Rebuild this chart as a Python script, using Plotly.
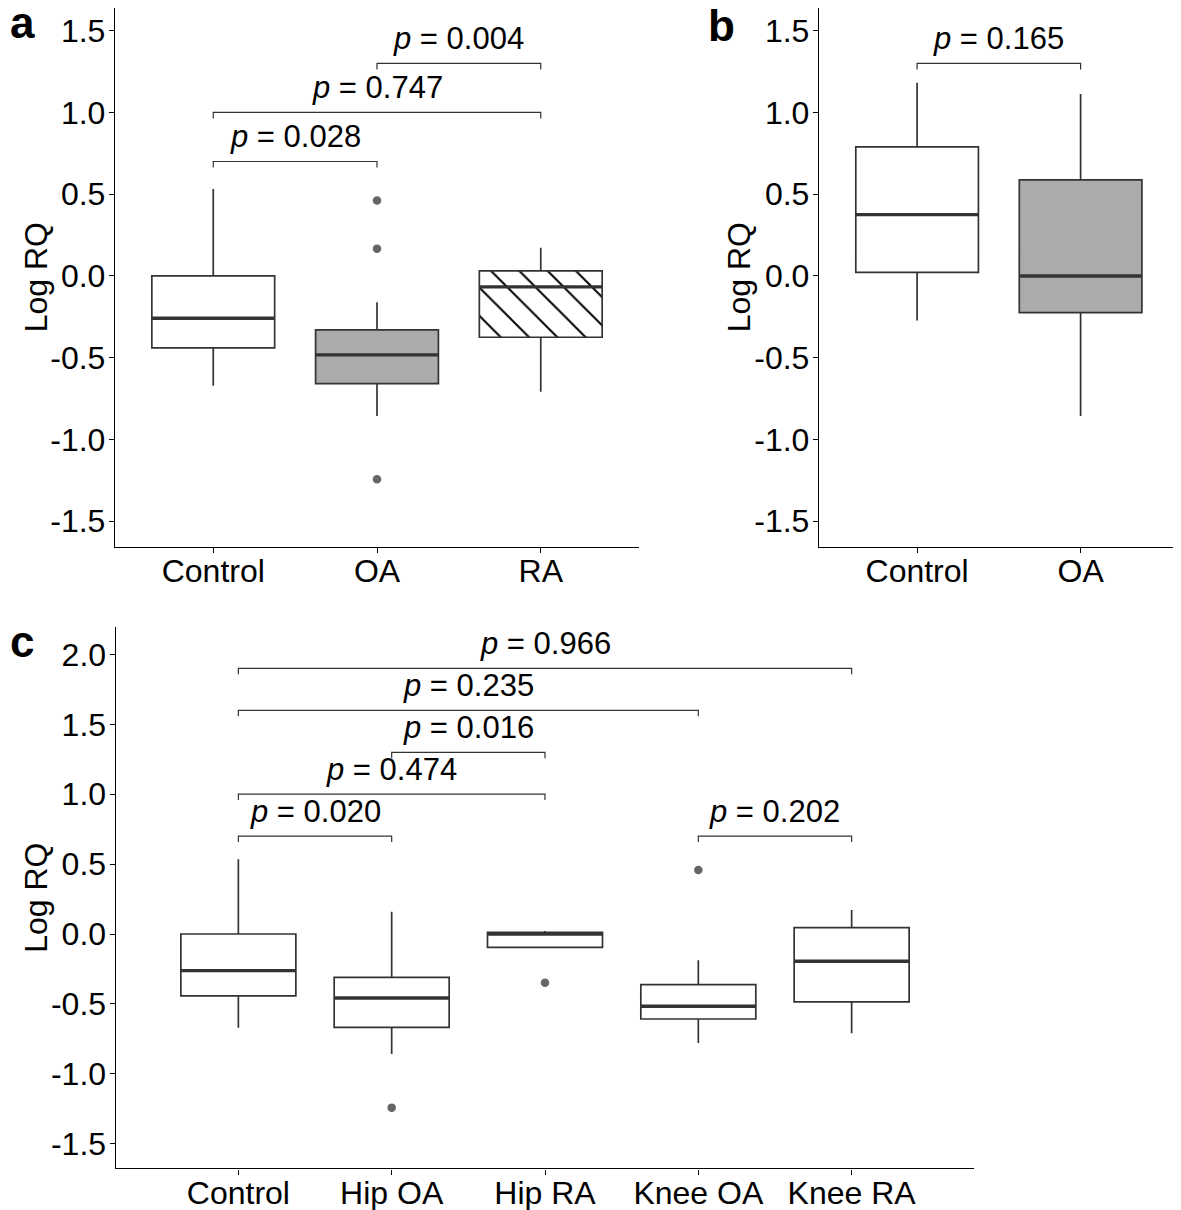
import plotly.graph_objects as go

# ---------------- data ----------------
# Panel a
a_categories = ["Control", "OA", "RA"]
a_upper = [0.532, -0.161, 0.173]
a_q3 = [0.000, -0.330, 0.031]
a_median = [-0.259, -0.483, -0.067]
a_q1 = [-0.440, -0.659, -0.375]
a_lower = [-0.671, -0.856, -0.708]
a_outlier_cat = ["OA", "OA", "OA"]
a_outlier_val = [0.461, 0.167, -1.244]
a_pair_left = ["Control", "Control", "OA"]
a_pair_right = ["OA", "RA", "RA"]
a_pair_height = [0.7, 1.0, 1.3]
a_pvalues = ["0.028", "0.747", "0.004"]

# Panel b
b_categories = ["Control", "OA"]
b_upper = [1.182, 1.113]
b_q3 = [0.789, 0.587]
b_median = [0.375, 0.000]
b_q1 = [0.022, -0.224]
b_lower = [-0.273, -0.856]
b_pair_left = ["Control"]
b_pair_right = ["OA"]
b_pair_height = [1.3]
b_pvalues = ["0.165"]

# Panel c
c_categories = ["Control", "Hip OA", "Hip RA", "Knee OA", "Knee RA"]
c_upper = [0.534, 0.160, 0.021, -0.188, 0.172]
c_q3 = [0.000, -0.310, 0.012, -0.362, 0.045]
c_median = [-0.262, -0.458, 0.000, -0.517, -0.195]
c_q1 = [-0.443, -0.668, -0.095, -0.608, -0.486]
c_lower = [-0.670, -0.858, -0.095, -0.780, -0.710]
c_outlier_cat = ["Hip OA", "Hip RA", "Knee OA"]
c_outlier_val = [-1.242, -0.348, 0.458]
c_pair_left = ["Control", "Control", "Hip OA", "Control", "Control", "Knee OA"]
c_pair_right = ["Hip OA", "Hip RA", "Hip RA", "Knee OA", "Knee RA", "Knee RA"]
c_pair_height = [0.7, 1.0, 1.3, 1.6, 1.9, 0.7]
c_pvalues = ["0.020", "0.474", "0.016", "0.235", "0.966", "0.202"]

ab_tick_vals = [-1.5, -1.0, -0.5, 0.0, 0.5, 1.0, 1.5]
ab_tick_text = ["-1.5", "-1.0", "-0.5", "0.0", "0.5", "1.0", "1.5"]
c_tick_vals = [-1.5, -1.0, -0.5, 0.0, 0.5, 1.0, 1.5, 2.0]
c_tick_text = ["-1.5", "-1.0", "-0.5", "0.0", "0.5", "1.0", "1.5", "2.0"]

# ---------------- styles / geometry ----------------
FONT = "Liberation Sans, Arial, Helvetica, sans-serif"
BOXLINE = "#333333"
GRAY = "#ababab"
a_fill = {"Control": "white", "OA": GRAY, "RA": "rgba(0,0,0,0)"}
a_hatch = {"RA"}
b_fill = {"Control": "white", "OA": GRAY}
c_fill = {k: "white" for k in c_categories}
BOXW = 0.75

OFF = 8  # page body margin
W, H = 1181 - OFF, 1210 - OFF


def px2x(px):
    return min(1.0, max(0.0, (px - OFF) / W))


def py2y(py):
    return min(1.0, max(0.0, 1 - (py - OFF) / H))


fig = go.Figure()


def add_panel(xref, yref, cats, upper, q3, med, q1, lower, fills, hatch,
              out_cat, out_val, pl, pr, ph, pv, tip):
    for i, cat in enumerate(cats):
        pos = i + 1
        if cat in hatch:
            fig.add_trace(go.Bar(
                x=[pos], y=[q3[i] - q1[i]], base=[q1[i]], width=BOXW,
                marker=dict(color="black", line=dict(width=0),
                            pattern=dict(shape="\\", fgcolor="black",
                                         bgcolor="rgba(0,0,0,0)", fgopacity=1,
                                         size=20, solidity=0.1)),
                xaxis=xref, yaxis=yref, showlegend=False, hoverinfo="skip"))
        fig.add_trace(go.Box(
            x=[pos], q1=[q1[i]], median=[med[i]], q3=[q3[i]],
            lowerfence=[lower[i]], upperfence=[upper[i]],
            width=BOXW, whiskerwidth=0, fillcolor=fills[cat],
            line=dict(color=BOXLINE, width=1.7),
            xaxis=xref, yaxis=yref, showlegend=False))
        fig.add_trace(go.Scatter(
            x=[pos - BOXW / 2, pos + BOXW / 2], y=[med[i], med[i]],
            mode="lines", line=dict(color=BOXLINE, width=3.4),
            xaxis=xref, yaxis=yref, showlegend=False, hoverinfo="skip"))
    if out_cat:
        fig.add_trace(go.Scatter(
            x=[cats.index(c) + 1 for c in out_cat], y=out_val, mode="markers",
            marker=dict(color="#666666", size=8.5, line=dict(width=0)),
            xaxis=xref, yaxis=yref, showlegend=False))
    for l, r, h, p in zip(pl, pr, ph, pv):
        x1 = cats.index(l) + 1
        x2 = cats.index(r) + 1
        fig.add_trace(go.Scatter(
            x=[x1, x1, x2, x2], y=[h - tip, h, h, h - tip], mode="lines",
            line=dict(color=BOXLINE, width=1.2),
            xaxis=xref, yaxis=yref, showlegend=False, hoverinfo="skip"))
        fig.add_annotation(
            x=(x1 + x2) / 2, y=h, xref=xref, yref=yref,
            text="<i>p</i> = " + p, showarrow=False, yanchor="bottom",
            yshift=5, font=dict(size=31, color="black", family=FONT))


add_panel("x", "y", a_categories, a_upper, a_q3, a_median, a_q1, a_lower,
          a_fill, a_hatch, a_outlier_cat, a_outlier_val,
          a_pair_left, a_pair_right, a_pair_height, a_pvalues, 0.037)
add_panel("x2", "y2", b_categories, b_upper, b_q3, b_median, b_q1, b_lower,
          b_fill, set(), [], [],
          b_pair_left, b_pair_right, b_pair_height, b_pvalues, 0.037)
add_panel("x3", "y3", c_categories, c_upper, c_q3, c_median, c_q1, c_lower,
          c_fill, set(), c_outlier_cat, c_outlier_val,
          c_pair_left, c_pair_right, c_pair_height, c_pvalues, 0.042)

axis_common = dict(showline=True, linecolor="black", linewidth=1.4,
                   ticks="outside", ticklen=5, tickwidth=1.4, tickcolor="black",
                   showgrid=False, zeroline=False,
                   tickfont=dict(size=32, color="black", family=FONT))
xaxis_common = dict(axis_common, ticklabelstandoff=-9)
yaxis_common = dict(axis_common, ticklabelstandoff=-3)

# panels a/b: axis top would be at page y=5, clipped at the figure top (y=8)
AB_PX_PER_UNIT = 163.5
ab_range = [-1.656, 1.657 - (OFF - 5) / AB_PX_PER_UNIT]
y_ab = [py2y(546.7), 1.0]
y_c = [py2y(1168.3), py2y(627.3)]

fig.update_layout(
    width=W, height=H, margin=dict(l=0, r=0, t=0, b=0),
    paper_bgcolor="white", plot_bgcolor="white",
    font=dict(family=FONT, color="black"),
    showlegend=False, boxmode="overlay", barmode="overlay",
    xaxis=dict(domain=[px2x(115), px2x(639)], range=[0.4, 3.6], anchor="y",
               tickvals=[1, 2, 3], ticktext=a_categories, **xaxis_common),
    yaxis=dict(domain=y_ab, range=ab_range, anchor="x",
               tickvals=ab_tick_vals, ticktext=ab_tick_text, **yaxis_common),
    xaxis2=dict(domain=[px2x(819), px2x(1178.7)], range=[0.4, 2.6], anchor="y2",
                tickvals=[1, 2], ticktext=b_categories, **xaxis_common),
    yaxis2=dict(domain=y_ab, range=ab_range, anchor="x2",
                tickvals=ab_tick_vals, ticktext=ab_tick_text, **yaxis_common),
    xaxis3=dict(domain=[px2x(115.7), px2x(974.3)], range=[0.2, 5.8], anchor="y3",
                tickvals=[1, 2, 3, 4, 5], ticktext=c_categories, **xaxis_common),
    yaxis3=dict(domain=y_c, range=[-1.676, 2.194], anchor="x3",
                tickvals=c_tick_vals, ticktext=c_tick_text, **yaxis_common),
)

# axis titles
for xc, dom in [(36, y_ab), (739, y_ab), (36, y_c)]:
    fig.add_annotation(x=px2x(xc), y=(dom[0] + dom[1]) / 2, xref="paper", yref="paper",
                       text="Log RQ", textangle=-90, showarrow=False,
                       xanchor="center", yanchor="middle",
                       font=dict(size=32, color="black", family=FONT))

# panel labels
for lab, xp, base in [("a", 8, 39), ("b", 706, 42), ("c", 8, 658)]:
    fig.add_annotation(x=px2x(xp), y=py2y(base + 0.21 * 44 + 1),
                       xref="paper", yref="paper", text="<b>" + lab + "</b>",
                       showarrow=False, xanchor="left", yanchor="bottom",
                       font=dict(size=44, color="black", family=FONT))

fig.write_html("out.html")
